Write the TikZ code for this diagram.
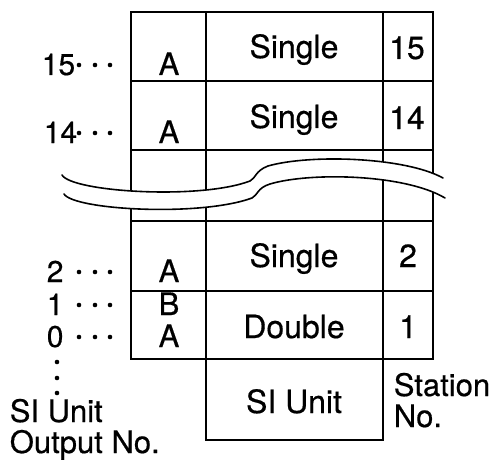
\documentclass[tikz,border=0pt]{standalone}
\usepackage{fontspec}
\setmainfont[FakeBold=0.5]{TeX Gyre Heros}
\begin{document}
\begin{tikzpicture}[x=1pt, y=-1pt, line width=1.6pt,
  cell/.style={font=\fontsize{32}{32}\selectfont, anchor=base, inner sep=0pt},
  letter/.style={font=\fontsize{31}{31}\selectfont, anchor=base, inner sep=0pt},
  outno/.style={font=\fontsize{30}{30}\selectfont, anchor=base west, inner sep=0pt},
  caption/.style={font=\fontsize{31}{31}\selectfont, anchor=base west, inner sep=0pt},
  leader/.style={circle, fill, inner sep=0pt, minimum size=4.6pt},
  breakline/.style={line width=1.6pt, line cap=round}]
\useasboundingbox (0,0) rectangle (496,460);

% manifold table
\draw (131,12) rectangle (433,359);
\foreach \y in {81,150,221,291} \draw (131,\y) -- (433,\y);
\draw (206,12) -- (206,359);
\draw (383,12) -- (383,359);
\draw (206,359) rectangle (383,440);

% break between station 14 and station 2
\fill[white] (62,175) .. controls (72,192) and (200,200) .. (250,181)
  .. controls (256,178) and (255,171) .. (268,166)
  .. controls (310,154) and (405,157) .. (443,178)
  -- (445,198)
  .. controls (405,174) and (310,172) .. (270,184)
  .. controls (257,188) and (258,195) .. (252,198)
  .. controls (200,217) and (74,210) .. (64,194) -- cycle;
\draw[breakline] (62,175) .. controls (72,192) and (200,200) .. (250,181)
  .. controls (256,178) and (255,171) .. (268,166)
  .. controls (310,154) and (405,157) .. (443,178);
\draw[breakline] (64,194) .. controls (74,210) and (200,217) .. (252,198)
  .. controls (258,195) and (257,188) .. (270,184)
  .. controls (310,172) and (405,174) .. (445,198);

% valve types
\node[cell] (s15) at (294,58) {Single};
\node[cell] (s14) at (294,128) {Single};
\node[cell] (s2) at (294,267) {Single};
\node[cell] (d1) at (294,338) {Double};
\node[cell] (si) at (294,413) {SI Unit};

% station numbers
\node[cell] (n15) at (407,59) {15};
\node[cell] (n14) at (407,129) {14};
\node[cell] (n2) at (408,267) {2};
\node[cell] (n1) at (408,338) {1};

% solenoids
\node[letter] (a15) at (169,75) {A};
\node[letter] (a14) at (169,143) {A};
\node[letter] (a2) at (169,282) {A};
\node[letter] (b1) at (169,315) {B};
\node[letter] (a0) at (169,347) {A};

% SI unit output numbers with leader dots
\node[outno] (o15) at (41,75) {15};
\node[outno] (o14) at (43,143) {14};
\node[outno] (o2) at (46,282) {2};
\node[outno] (o1) at (46,315) {1};
\node[outno] (o0) at (46,347) {0};
\foreach \y/\n in {75/15,143/14,282/2,315/1,347/0}
  \foreach \x/\k in {79/a,95/b,110/c}
    \node[leader] (dot\n\k) at (\x,\y-10) {};
\foreach \y/\k in {362/a,378/b,393/c} \node[leader] (vdot\k) at (57,\y) {};

% captions
\node[caption] (cap1) at (9,422) {SI Unit};
\node[caption] (cap2) at (9,453) {Output No.};
\node[caption] (st1) at (393,396) {Station};
\node[caption] (st2) at (393,427) {No.};
\end{tikzpicture}
\end{document}
